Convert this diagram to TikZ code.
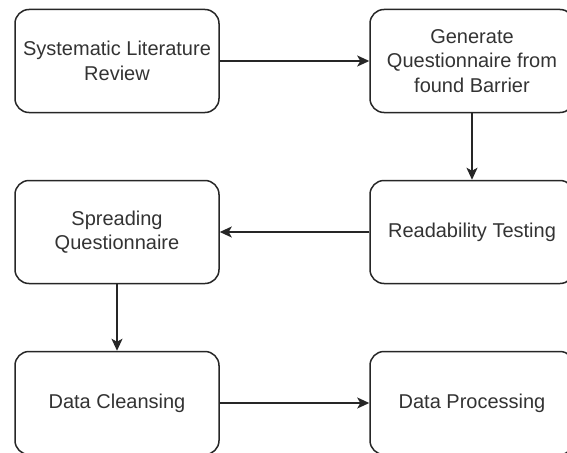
\documentclass[tikz,border=0pt]{standalone}
\usepackage{fontspec}
\setmainfont{Liberation Sans}
\usetikzlibrary{arrows.meta}

\tikzset{
    stage/.style={draw=black!85, line width=1.5pt, rounded corners=14pt,
        minimum width=204pt, minimum height=103pt, inner sep=0pt,
        align=center, text=black!80, font=\fontsize{20}{24.5}\selectfont},
    flow/.style={draw=black!85, line width=1.5pt,
        -{Stealth[length=12pt, width=11pt, inset=3pt]}}
}

\begin{document}
\begin{tikzpicture}[x=1pt, y=-1pt]
    \useasboundingbox (0,0) rectangle (567,452);

    % Row 1
    \node[stage] (slr) at (117, 61) {Systematic Literature\\Review};
    \node[stage] (gen) at (472, 61) {Generate\\Questionnaire from\\found Barrier};

    % Row 2
    \node[stage] (spread) at (117, 232) {Spreading\\Questionnaire};
    \node[stage] (read) at (472, 232) {Readability Testing};

    % Row 3
    \node[stage] (clean) at (117, 403) {Data Cleansing};
    \node[stage] (proc) at (472, 403) {Data Processing};

    % Flow
    \draw[flow] (slr) -- (gen);
    \draw[flow] (gen) -- (read);
    \draw[flow] (read) -- (spread);
    \draw[flow] (spread) -- (clean);
    \draw[flow] (clean) -- (proc);
\end{tikzpicture}
\end{document}
